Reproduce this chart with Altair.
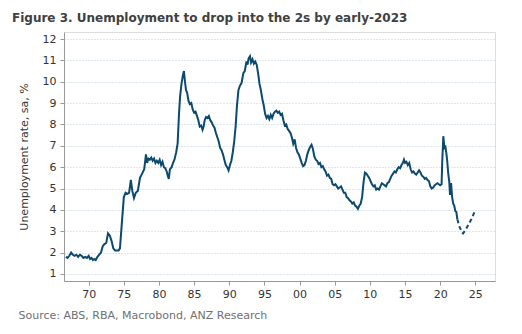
import altair as alt
import pandas as pd

actual_years = [
    1966.75, 1967.0, 1967.25, 1967.5, 1967.75, 1968.0, 1968.25, 1968.5, 1968.75, 1969.0,
    1969.25, 1969.5, 1969.75, 1970.0, 1970.2, 1970.4, 1970.6, 1970.8, 1971.0, 1971.25,
    1971.5, 1971.75, 1972.0, 1972.25, 1972.5, 1972.75, 1973.0, 1973.25, 1973.5, 1973.75,
    1974.0, 1974.25, 1974.45, 1974.7, 1975.0, 1975.25, 1975.5, 1975.75, 1976.0, 1976.2,
    1976.45, 1976.7, 1977.0, 1977.3, 1977.6, 1977.9, 1978.15, 1978.3, 1978.5, 1978.7,
    1978.9, 1979.1, 1979.3, 1979.5, 1979.7, 1979.9, 1980.1, 1980.3, 1980.5, 1980.7,
    1980.9, 1981.1, 1981.25, 1981.4, 1981.55, 1981.8, 1982.0, 1982.2, 1982.45, 1982.65,
    1982.85, 1983.0, 1983.2, 1983.4, 1983.55, 1983.7, 1983.85, 1984.0, 1984.2, 1984.4,
    1984.6, 1984.8, 1985.0, 1985.2, 1985.4, 1985.6, 1985.8, 1986.0, 1986.2, 1986.35,
    1986.5, 1986.7, 1986.9, 1987.1, 1987.3, 1987.5, 1987.7, 1987.9, 1988.1, 1988.3,
    1988.5, 1988.7, 1988.9, 1989.1, 1989.3, 1989.5, 1989.7, 1989.9, 1990.1, 1990.3,
    1990.5, 1990.7, 1990.9, 1991.1, 1991.3, 1991.5, 1991.75, 1992.0, 1992.2, 1992.45,
    1992.6, 1992.75, 1992.95, 1993.1, 1993.3, 1993.5, 1993.7, 1993.9, 1994.1, 1994.3,
    1994.5, 1994.7, 1994.9, 1995.1, 1995.3, 1995.5, 1995.7, 1995.9, 1996.1, 1996.3,
    1996.5, 1996.7, 1996.9, 1997.1, 1997.3, 1997.5, 1997.7, 1997.9, 1998.1, 1998.3,
    1998.5, 1998.7, 1998.9, 1999.1, 1999.3, 1999.5, 1999.7, 1999.9, 2000.1, 2000.3,
    2000.5, 2000.7, 2000.9, 2001.1, 2001.3, 2001.5, 2001.7, 2001.9, 2002.1, 2002.3,
    2002.5, 2002.7, 2002.9, 2003.1, 2003.3, 2003.5, 2003.7, 2003.9, 2004.1, 2004.3,
    2004.5, 2004.7, 2004.9, 2005.1, 2005.3, 2005.5, 2005.7, 2005.9, 2006.1, 2006.3,
    2006.5, 2006.7, 2006.9, 2007.1, 2007.3, 2007.5, 2007.7, 2007.9, 2008.1, 2008.3,
    2008.5, 2008.7, 2008.9, 2009.1, 2009.3, 2009.5, 2009.7, 2009.9, 2010.1, 2010.3,
    2010.5, 2010.7, 2010.9, 2011.1, 2011.3, 2011.5, 2011.7, 2011.9, 2012.1, 2012.3,
    2012.5, 2012.7, 2012.9, 2013.1, 2013.3, 2013.5, 2013.7, 2013.9, 2014.1, 2014.3,
    2014.5, 2014.7, 2014.85, 2015.0, 2015.2, 2015.4, 2015.6, 2015.8, 2016.0, 2016.2,
    2016.4, 2016.6, 2016.8, 2017.0, 2017.2, 2017.4, 2017.6, 2017.8, 2018.0, 2018.2,
    2018.4, 2018.6, 2018.8, 2019.0, 2019.2, 2019.4, 2019.6, 2019.8, 2020.0, 2020.2,
    2020.3, 2020.45, 2020.6, 2020.75, 2020.9, 2021.0, 2021.15, 2021.3, 2021.4, 2021.55,
    2021.7, 2021.85, 2022.0, 2022.15, 2022.3, 2022.45,
]
actual_values = [
    1.80, 1.75, 1.85, 2.00, 1.90, 1.85, 1.90, 1.80, 1.90, 1.85,
    1.75, 1.80, 1.75, 1.85, 1.70, 1.75, 1.65, 1.70, 1.65, 1.80,
    1.90, 2.00, 2.30, 2.40, 2.45, 2.90, 2.80, 2.55, 2.20, 2.10,
    2.10, 2.10, 2.20, 3.30, 4.60, 4.80, 4.75, 4.80, 5.40, 4.90,
    4.55, 4.80, 4.90, 5.50, 5.70, 5.90, 6.60, 6.20, 6.40, 6.35,
    6.45, 6.30, 6.40, 6.20, 6.30, 6.20, 6.35, 6.10, 6.25, 6.00,
    5.95, 5.80, 5.60, 5.45, 5.90, 6.00, 6.20, 6.35, 6.70, 7.10,
    8.50, 9.30, 9.90, 10.30, 10.50, 10.00, 9.60, 9.50, 9.10, 8.95,
    9.00, 8.70, 8.55, 8.60, 8.40, 8.20, 7.90, 7.95, 7.75, 7.90,
    8.20, 8.35, 8.30, 8.40, 8.20, 8.10, 7.95, 7.85, 7.60, 7.40,
    7.20, 6.90, 6.80, 6.60, 6.35, 6.10, 6.00, 5.85, 6.10, 6.30,
    6.70, 7.20, 7.90, 8.90, 9.60, 9.80, 9.95, 10.40, 10.50, 10.95,
    10.80, 11.10, 11.20, 10.90, 11.05, 10.85, 10.95, 10.80, 10.40, 9.90,
    9.60, 9.20, 8.90, 8.50, 8.30, 8.40, 8.25, 8.45, 8.30, 8.50,
    8.60, 8.65, 8.55, 8.60, 8.45, 8.50, 8.20, 7.95, 8.00, 7.80,
    7.70, 7.60, 7.40, 7.10, 7.30, 6.90, 6.70, 6.60, 6.40, 6.20,
    6.05, 6.10, 6.30, 6.60, 6.80, 6.95, 7.05, 6.85, 6.50, 6.35,
    6.30, 6.15, 6.20, 6.00, 6.05, 5.90, 5.80, 5.60, 5.65, 5.50,
    5.45, 5.20, 5.15, 5.20, 5.10, 5.00, 5.05, 5.10, 4.95, 4.80,
    4.80, 4.60, 4.55, 4.45, 4.40, 4.30, 4.35, 4.20, 4.15, 4.05,
    4.20, 4.30, 4.60, 5.30, 5.75, 5.70, 5.60, 5.50, 5.35, 5.20,
    5.10, 5.15, 4.95, 5.00, 4.95, 5.10, 5.25, 5.20, 5.15, 5.10,
    5.25, 5.30, 5.45, 5.60, 5.70, 5.80, 5.75, 5.90, 6.00, 5.95,
    6.10, 6.20, 6.35, 6.20, 6.25, 6.10, 6.20, 5.90, 5.75, 5.80,
    5.70, 5.65, 5.75, 5.85, 5.75, 5.60, 5.55, 5.45, 5.50, 5.40,
    5.35, 5.10, 5.00, 5.05, 5.15, 5.20, 5.25, 5.20, 5.15, 5.20,
    6.30, 7.45, 6.90, 6.95, 6.60, 6.30, 5.70, 5.30, 4.70, 5.25,
    4.60, 4.30, 4.20, 3.95, 3.90, 3.55,
]
forecast_years = [2022.45, 2022.75, 2023.1, 2023.25, 2023.6, 2024.0, 2024.5, 2024.95]
forecast_values = [3.55, 3.20, 2.95, 2.90, 3.05, 3.30, 3.60, 3.95]

x_tick_values = [1970, 1975, 1980, 1985, 1990, 1995, 2000, 2005, 2010, 2015, 2020, 2025]
y_tick_values = [1, 2, 3, 4, 5, 6, 7, 8, 9, 10, 11, 12]

LINE_COLOR = "#0b4a6e"
FONT = "DejaVu Sans"

actual = pd.DataFrame({"year": actual_years, "rate": actual_values})
forecast = pd.DataFrame({"year": forecast_years, "rate": forecast_values})

x_enc = alt.X(
    "year:Q",
    scale=alt.Scale(domain=[1966.49, 2027.8], nice=False, zero=False),
    axis=alt.Axis(
        values=x_tick_values,
        tickCount=30,
        labelExpr="substring(toString(datum.value), 2)",
        labelOverlap=False,
        title="Source: ABS, RBA, Macrobond, ANZ Research",
        titleX=-46,
        titleY=37,
        titleAlign="left",
        titleBaseline="alphabetic",
        titleFontWeight="normal",
        titleColor="#707070",
        titleFontSize=11,
        titleFont=FONT,
        grid=False,
        tickSize=4,
        labelPadding=3,
        domainColor="#999999",
        tickColor="#999999",
        labelColor="#333333",
        labelFontSize=11,
        labelFont=FONT,
    ),
)
y_enc = alt.Y(
    "rate:Q",
    scale=alt.Scale(domain=[0.67, 12.33], nice=False, zero=False),
    axis=alt.Axis(
        values=y_tick_values,
        tickCount=30,
        format="d",
        labelOverlap=False,
        title="Unemployment rate, sa, %",
        titleX=-40,
        titleBaseline="middle",
        titleFontWeight="normal",
        titleColor="#333333",
        titleFontSize=11,
        titleFont=FONT,
        grid=True,
        gridDash=[1, 2],
        gridColor="#b9cfdc",
        gridWidth=1,
        tickSize=4,
        labelPadding=4,
        domainColor="#999999",
        tickColor="#999999",
        labelColor="#333333",
        labelFontSize=11,
        labelFont=FONT,
    ),
)

line_actual = alt.Chart(actual).mark_line(color=LINE_COLOR, strokeWidth=2).encode(x=x_enc, y=y_enc)
line_forecast = alt.Chart(forecast).mark_line(
    color=LINE_COLOR, strokeWidth=2, strokeDash=[4, 3]
).encode(x="year:Q", y="rate:Q")

chart = (
    alt.layer(line_actual, line_forecast)
    .properties(
        width=431,
        height=249,
        autosize=alt.AutoSizeParams(type="none"),
        padding={"left": 64, "top": 32, "right": 27, "bottom": 53},
        title=alt.TitleParams(
            "Figure 3. Unemployment to drop into the 2s by early-2023",
            anchor="start",
            frame="group",
            dx=-52,
            offset=13,
            dy=15,
            baseline="alphabetic",
            fontSize=12,
            fontWeight="bold",
            color="#404040",
            font=FONT,
        ),
    )
    .configure_view(stroke=None)
    .configure(background="white")
)

chart.save("out.html", embed_options={"renderer": "svg", "actions": False})
